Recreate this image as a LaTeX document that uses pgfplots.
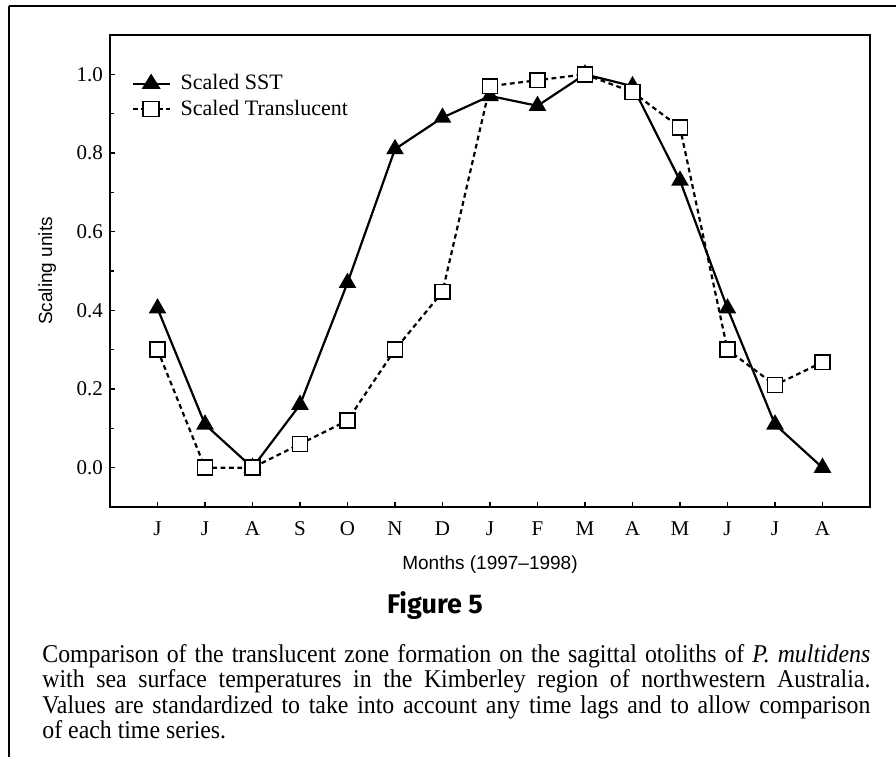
\documentclass[border=0pt]{standalone}
\usepackage{fontspec}
\setmainfont{Liberation Serif}
\newfontfamily\sansf{Liberation Sans}
\newfontfamily\figf{Fira Sans}
\newfontfamily\capf[FakeStretch=0.93]{Liberation Serif}
\usepackage{pgfplots}
\pgfplotsset{compat=1.18}
\pgfplotstableread{
x sst tr
0 0.405 0.30
1 0.11 0.0
2 0.0 0.0
3 0.16 0.06
4 0.47 0.12
5 0.81 0.30
6 0.89 0.447
7 0.945 0.97
8 0.92 0.985
9 1.0 1.0
10 0.97 0.955
11 0.73 0.865
12 0.405 0.30
13 0.11 0.21
14 0.0 0.268
}\datatab
\begin{document}
\begin{tikzpicture}
\path[use as bounding box] (0pt,0pt) rectangle (448pt,-378.5pt);
\draw[line width=1.2pt] (4.5pt,-3pt) -- (448pt,-3pt);
\draw[line width=1.2pt] (4.5pt,-3pt) -- (4.5pt,-378.5pt);
\begin{axis}[at={(55pt,-17.5pt)}, anchor=north west, scale only axis,
  width=380pt, height=236pt,
  xmin=-1, xmax=15, ymin=-0.1, ymax=1.1,
  xtick={0,...,14}, xticklabels={J,J,A,S,O,N,D,J,F,M,A,M,J,J,A},
  ytick={0,0.2,0.4,0.6,0.8,1.0}, minor y tick num=1,
  yticklabel style={/pgf/number format/.cd, fixed, fixed zerofill, precision=1},
  xticklabel style={yshift=-4pt},
  /pgf/number format/assume math mode=true,
  ticklabel style={font=\fontsize{10.5}{12}\selectfont},
  tick align=inside, xtick pos=bottom, ytick pos=left,
  major tick length=2.5pt, minor tick length=2pt,
  tick style={line width=0.6pt, black},
  axis line style={line width=0.8pt},
  xlabel={\sansf\fontsize{9.5}{11}\selectfont Months (1997–1998)},
  ylabel={\sansf\fontsize{9.5}{11}\selectfont Scaling units},
  xlabel style={yshift=-3pt},
  ylabel style={yshift=3.5pt},
  legend style={draw=none, fill=none, at={(0.02,0.934)}, anchor=north west,
    font=\fontsize{11}{13}\selectfont, row sep=-0.5pt},
  legend image post style={xscale=1.08},
  legend cell align=left,
]
\addplot[black, line width=1.1pt, mark=triangle*, mark size=4pt, mark options={fill=black}]
  table[x=x, y=sst] {\datatab};
\addlegendentry{\hspace{3pt}Scaled SST}
\addplot[black, line width=1.1pt, dash pattern=on 2.4pt off 1.8pt, mark=square*, mark size=3.7pt,
  mark options={solid, fill=white, draw=black, line width=0.8pt}]
  table[x=x, y=tr] {\datatab};
\addlegendentry{\hspace{3pt}Scaled Translucent}
\end{axis}
\node[font=\figf\bfseries\fontsize{13.5}{15}\selectfont] at (217.5pt,-303pt) {Figure 5};
\begin{scope}[every node/.style={anchor=base west, inner sep=0pt, font=\capf\fontsize{12.8}{14}\selectfont}]
\node at (21pt,-331pt) {\makebox[414pt][s]{Comparison of the translucent zone formation on the sagittal otoliths of \textit{P. multidens}}};
\node at (21pt,-343.8pt) {\makebox[414pt][s]{with sea surface temperatures in the Kimberley region of northwestern Australia.}};
\node at (21pt,-356.6pt) {\makebox[414pt][s]{Values are standardized to take into account any time lags and to allow comparison}};
\node at (21pt,-369.4pt) {of each time series.};
\end{scope}
\end{tikzpicture}
\end{document}
